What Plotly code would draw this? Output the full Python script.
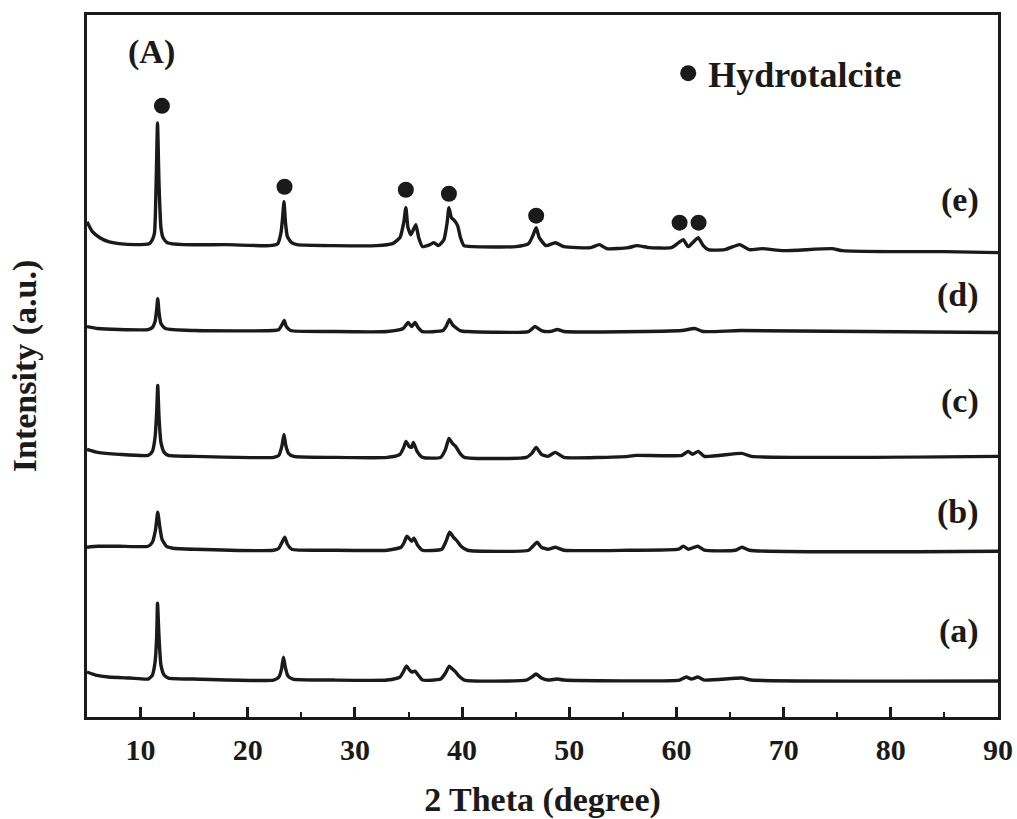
import plotly.graph_objects as go

# ---- data (2 theta in degrees, intensity in arbitrary units, patterns already stacked) ----
a_x = [5.0, 5.8, 7.0, 9.0, 10.7, 11.1, 11.35, 11.5, 11.58, 11.72, 11.9, 12.2, 12.6, 15, 22.4, 22.9, 23.15, 23.33,
       23.5, 23.75, 24.2, 28, 33, 34.2, 34.55, 34.8, 35.1, 35.29, 35.6, 35.9, 36.3, 38.0, 38.45, 38.8, 39.1, 39.33,
       39.7, 40.2, 46.0, 46.5, 46.9, 47.4, 48.0, 48.9, 49.5, 60.3, 60.9, 61.4, 62.0, 62.6, 66.1, 67, 90]
a_y = [45, 42, 40, 39, 38, 42, 55, 80, 114, 80, 52, 42, 39, 38, 37, 40, 48, 60,
       50, 41, 38, 37, 37, 40, 46, 51, 47, 45, 46, 42, 37, 38, 44, 51, 48, 46,
       41, 37, 37, 40, 43, 39, 37, 38, 37, 37, 40, 38, 40, 37, 39, 37, 36]

b_x = [5.0, 6.0, 8.0, 10.7, 11.1, 11.4, 11.6, 11.8, 12.0, 12.4, 13.0, 15, 22.4, 22.9, 23.2, 23.45, 23.7, 24.1, 28,
       33, 34.3, 34.6, 34.85, 35.29, 35.5, 35.85, 36.3, 38.1, 38.5, 38.83, 39.2, 39.55, 39.9, 40.5, 46.2, 46.6,
       47.0, 47.4, 48.0, 48.7, 49.5, 55.5, 60.2, 60.63, 61.1, 62.0, 62.6, 65.5, 66.1, 66.8, 90]
b_y = [170, 171, 171, 171, 175, 188, 205, 190, 178, 171, 169, 168, 167, 169, 175, 180, 173, 168, 167,
       167, 170, 175, 181, 176, 179, 172, 167, 168, 176, 185, 180, 176, 171, 167, 167, 171,
       175, 170, 168, 170, 167, 167, 168, 171, 168, 171, 167, 167, 170, 167, 166]

c_x = [5.0, 6.0, 8.0, 10.7, 11.1, 11.35, 11.5, 11.6, 11.72, 11.9, 12.2, 12.6, 15, 22.4, 22.9, 23.2, 23.38, 23.55,
       23.8, 24.3, 28, 33, 34.2, 34.55, 34.77, 35.05, 35.29, 35.45, 35.8, 36.3, 38.0, 38.45, 38.77, 39.1, 39.4,
       39.8, 40.2, 46.0, 46.5, 46.91, 47.4, 48.0, 48.7, 49.5, 55.5, 56.2, 60.5, 61.09, 61.5, 62.03, 62.6, 66.1,
       67, 90]
c_y = [268, 265, 263, 262, 266, 280, 305, 332, 300, 275, 265, 262, 261, 260, 262, 272, 283, 272,
       264, 261, 260, 260, 263, 270, 276, 271, 270, 275, 266, 260, 260, 268, 279, 274, 271,
       264, 260, 260, 264, 270, 263, 261, 265, 260, 261, 262, 262, 266, 263, 266, 261, 264,
       261, 261]

d_x = [5.0, 6.0, 8.0, 10.7, 11.1, 11.35, 11.5, 11.6, 11.72, 11.9, 12.3, 15, 22.4, 22.9, 23.2, 23.4, 23.6, 24.0,
       28, 33, 34.5, 34.97, 35.29, 35.6, 35.9, 36.3, 38.2, 38.55, 38.8, 39.1, 39.4, 39.8, 40.5, 46.2, 46.8,
       47.4, 48.2, 48.9, 49.5, 60.5, 61.7, 62.5, 66, 90]
d_y = [391, 389, 388, 388, 390, 396, 408, 419, 405, 394, 389, 387, 387, 388, 393, 397, 391, 387,
       386, 386, 389, 395, 391, 395, 390, 386, 387, 392, 398, 393, 390, 387, 386, 386, 391,
       387, 386, 388, 386, 387, 389, 386, 387, 385]

e_x = [5.0, 5.5, 6.2, 7.0, 8.0, 9.5, 10.8, 11.1, 11.3, 11.45, 11.58, 11.72, 11.9, 12.1, 12.5, 14, 18, 22, 22.8,
       23.1, 23.25, 23.38, 23.52, 23.7, 24.1, 24.6, 28, 32, 33.5, 34.2, 34.55, 34.75, 34.95, 35.22, 35.45, 35.68,
       35.95, 36.31, 37.0, 37.37, 37.8, 38.3, 38.6, 38.77, 39.0, 39.3, 39.58, 39.85, 40.17, 41, 45, 46.2, 46.6,
       46.91, 47.2, 47.84, 48.7, 49.5, 52.0, 52.8, 53.5, 55.5, 56.3, 57.5, 59.5, 60.2, 60.63, 61.09, 61.6, 62.03,
       62.5, 62.96, 64.5, 65.9, 66.8, 68, 70, 74.5, 75.5, 80, 85, 90]
e_y = [496, 486, 480, 476, 474, 473, 474, 478, 485, 534, 595, 534, 490, 480, 475, 473, 473, 472, 474,
       485, 500, 516, 495, 481, 475, 473, 472, 472, 474, 480, 495, 510, 490, 483, 488, 493,
       480, 471, 473, 475, 472, 478, 495, 510, 500, 497, 492, 480, 472, 471, 471, 474, 482,
       490, 480, 472, 475, 471, 470, 473, 469, 470, 472, 470, 470, 475, 478, 471, 476, 480,
       472, 468, 468, 473, 468, 469, 467, 469, 467, 466, 466, 465]

# hydrotalcite reflections marked on pattern (e)
ht_x = [11.99, 23.43, 34.75, 38.77, 46.91, 60.29, 62.06]
ht_y = [612, 531, 528, 524, 502, 495, 495]

pattern_names = ["(a)", "(b)", "(c)", "(d)", "(e)"]
pattern_label_y = [86, 205, 316, 423, 518]

x_ticks = [10, 20, 30, 40, 50, 60, 70, 80, 90]

FONT = "Liberation Serif"
INK = "#1a1a1a"

fig = go.Figure()
for name, xs, ys in zip(pattern_names, [a_x, b_x, c_x, d_x, e_x], [a_y, b_y, c_y, d_y, e_y]):
    fig.add_trace(go.Scatter(x=xs, y=ys, mode="lines", name=name, showlegend=False,
                             line=dict(color=INK, width=3.4, shape="spline", smoothing=0.5)))

fig.add_trace(go.Scatter(x=ht_x, y=ht_y, mode="markers", name="Hydrotalcite", showlegend=True,
                         marker=dict(color=INK, size=16, symbol="circle")))

for name, ly in zip(pattern_names, pattern_label_y):
    fig.add_annotation(x=88.4, y=ly, text=f"<b>{name}</b>", showarrow=False, xanchor="right",
                       yanchor="middle", font=dict(family=FONT, size=34, color=INK))

fig.add_annotation(x=11.02, y=666, text="<b>(A)</b>", showarrow=False, xanchor="center", yanchor="middle",
                   font=dict(family=FONT, size=34, color=INK))

fig.update_layout(
    width=1017, height=819,
    margin=dict(l=87, r=19, t=15, b=102, autoexpand=False),
    paper_bgcolor="white", plot_bgcolor="white",
    font=dict(family=FONT, color=INK),
    legend=dict(x=0.638, y=0.917, xanchor="left", yanchor="middle", bgcolor="rgba(0,0,0,0)",
                font=dict(family=FONT, size=36, color=INK, weight="bold"), borderwidth=0),
    xaxis=dict(range=[5, 90], tickvals=x_ticks, ticks="inside", ticklen=10, tickwidth=2.5, tickcolor=INK,
               minor=dict(dtick=5, tick0=0, ticks="inside", ticklen=5, tickwidth=2, tickcolor=INK),
               showline=True, linewidth=2.5, linecolor=INK, mirror=True, showgrid=False, zeroline=False,
               automargin=False, ticklabelstandoff=4,
               tickfont=dict(family=FONT, size=30, color=INK, weight="bold"),
               title=dict(text="<b>2 Theta (degree)</b>", font=dict(family=FONT, size=34, color=INK),
                          standoff=28)),
    yaxis=dict(range=[0, 703], showticklabels=False, ticks="", showline=True, linewidth=2.5, linecolor=INK,
               mirror=True, showgrid=False, zeroline=False, automargin=False,
               title=dict(text="<b>Intensity (a.u.)</b>", font=dict(family=FONT, size=34, color=INK),
                          standoff=38)),
)

fig.write_html("out.html")
